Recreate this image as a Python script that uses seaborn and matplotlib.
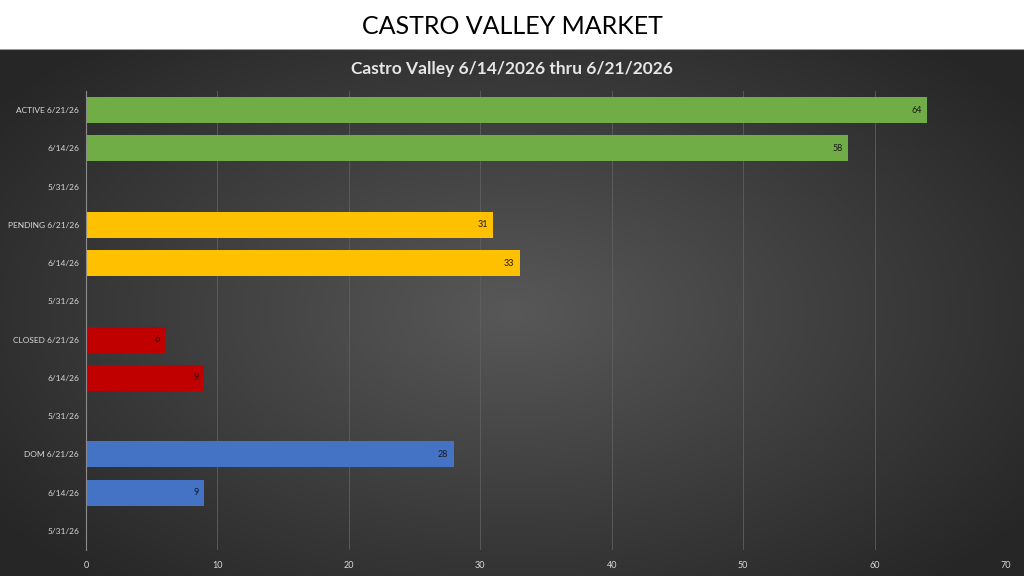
import numpy as np
import pandas as pd
import matplotlib.pyplot as plt
import seaborn as sns

# 데이터
row_labels = ['ACTIVE 6/21/26', '6/14/26', '5/31/26',
              'PENDING 6/21/26', '6/14/26', '5/31/26',
              'CLOSED 6/21/26', '6/14/26', '5/31/26',
              'DOM 6/21/26', '6/14/26', '5/31/26']
groups = ['ACTIVE'] * 3 + ['PENDING'] * 3 + ['CLOSED'] * 3 + ['DOM'] * 3
values = [64, 58, 0, 31, 33, 0, 6, 9, 0, 28, 9, 0]
x_ticks = [0, 10, 20, 30, 40, 50, 60, 70]
palette = {'ACTIVE': '#70AD47', 'PENDING': '#FFC000', 'CLOSED': '#C00000', 'DOM': '#4472C4'}

df = pd.DataFrame({'row': [f'r{i}' for i in range(len(values))],
                   'group': groups, 'value': values})

plt.rcParams['font.family'] = ['Lato', 'DejaVu Sans']

fig = plt.figure(figsize=(10.24, 5.76), dpi=100)
fig.patch.set_facecolor('white')

# 어두운 배경 (방사형 그라데이션)
bg = fig.add_axes([0, 0, 1, 1 - 49 / 576])
bg.set_axis_off()
yy, xx = np.mgrid[-1:1:300j, -1:1:500j]
r = np.sqrt((xx / 1.0) ** 2 + (yy / 1.1) ** 2)
r = np.clip(r / 1.25, 0, 1)
c0 = np.array([0x58, 0x58, 0x58]) / 255
c1 = np.array([0x26, 0x26, 0x26]) / 255
img = c0[None, None, :] * (1 - r[..., None]) + c1[None, None, :] * r[..., None]
bg.imshow(img, aspect='auto', extent=[0, 1, 0, 1])
bg.axhline(1, color='#9a9a9a', lw=1.5)

fig.text(0.5, 1 - 27 / 576, 'CASTRO VALLEY MARKET', ha='center', va='center',
         fontsize=18, color='black')
fig.text(0.5, 1 - 69 / 576, 'Castro Valley 6/14/2026 thru 6/21/2026', ha='center',
         va='center', fontsize=12.5, fontweight='bold', color='#e6e6e6')

ax = fig.add_axes([86 / 1024, 1 - 550 / 576, 920 / 1024, 459 / 576])
ax.patch.set_alpha(0)
sns.barplot(data=df, x='value', y='row', hue='group', palette=palette,
            dodge=False, orient='h', width=0.68, legend=False, ax=ax,
            saturation=1, edgecolor='none', zorder=3)

for c in ax.containers:
    texts = ax.bar_label(c, fmt=lambda v: f'{v:.0f}' if v else '', padding=-4,
                         fontsize=6.5, color='#1a1a1a')
    for t in texts:
        t.set_ha('right')

ax.set_xlim(0, 70)
ax.set_ylim(11.5, -0.5)
ax.set_xticks(x_ticks)
ax.set_yticks(range(len(row_labels)))
ax.set_yticklabels(row_labels)
ax.set_xlabel('')
ax.set_ylabel('')
ax.grid(axis='x', color='#5f5f5f', lw=0.6, zorder=0)
ax.grid(axis='y', visible=False)
for s in ['top', 'right', 'bottom']:
    ax.spines[s].set_visible(False)
ax.spines['left'].set_color('#8c8c8c')
ax.spines['left'].set_zorder(4)
ax.tick_params(axis='both', length=0, colors='#d9d9d9')
ax.tick_params(axis='x', pad=8, labelsize=6.5)
ax.tick_params(axis='y', pad=5, labelsize=6)

plt.savefig('out.png', dpi=100)
